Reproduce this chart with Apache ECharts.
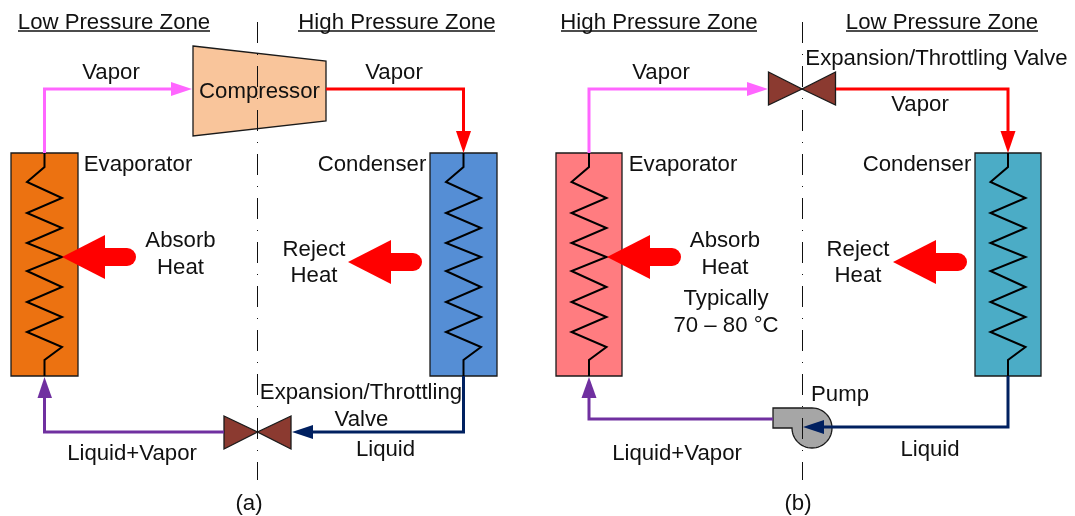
<!DOCTYPE html>
<html>
<head>
<meta charset="utf-8">
<style>
  html, body { margin: 0; padding: 0; background: #fff; }
  #chart { width: 1075px; height: 516px; }
</style>
<script src="https://cdn.jsdelivr.net/npm/echarts@6/dist/echarts.min.js"></script>
</head>
<body>
<div id="chart"></div>
<script>
  // 图 (a)
  const evaporatorA = [[11, 153], [78, 153], [78, 376], [11, 376]]
  const condenserA = [[430, 153], [497, 153], [497, 376], [430, 376]]
  const compressorA = [[193, 46], [326, 61], [326, 121], [193, 136]]
  const valveLeftA = [[224, 416], [257.5, 432], [224, 449]]
  const valveRightA = [[291, 416], [257.5, 432], [291, 449]]
  const vaporInA = [[44.5, 153], [44.5, 89], [175, 89]]
  const vaporOutA = [[326, 89], [463.5, 89], [463.5, 135]]
  const liquidA = [[463.5, 376], [463.5, 432], [310, 432]]
  const mixedA = [[224, 432], [44.5, 432], [44.5, 395]]
  const headVaporInA = [[171, 82], [192, 89], [171, 96]]
  const headVaporOutA = [[456, 131], [463.5, 153], [471, 131]]
  const headLiquidA = [[313, 425], [292, 432], [313, 439]]
  const headMixedA = [[37.5, 398], [44.5, 377], [52, 398]]

  // 图 (b)
  const evaporatorB = [[556, 153], [622, 153], [622, 376], [556, 376]]
  const condenserB = [[975, 153], [1041, 153], [1041, 376], [975, 376]]
  const valveLeftB = [[768.5, 72], [802, 89], [768.5, 105]]
  const valveRightB = [[835.5, 72], [802, 89], [835.5, 105]]
  const vaporInB = [[589, 153], [589, 89], [750, 89]]
  const vaporOutB = [[836, 89], [1008, 89], [1008, 135]]
  const liquidB = [[1008, 376], [1008, 427], [820, 427]]
  const mixedB = [[773, 419], [589, 419], [589, 395]]
  const headVaporInB = [[747, 82], [768, 89], [747, 96]]
  const headVaporOutB = [[1000.5, 131], [1008, 153], [1015.5, 131]]
  const headLiquidB = [[824, 420], [803, 427], [824, 434]]
  const headMixedB = [[581.5, 398], [589, 377], [596.5, 398]]
  const pumpOutlet = [[773, 408], [773, 428]]
  const pumpCasing = [812, 428, 20]

  // 盘管折线
  const coilLeft = [[44.5, 153], [44.5, 167], [27, 182], [62, 198], [27, 213], [62, 228], [27, 243], [62, 257], [27, 271], [62, 287], [27, 302], [62, 317], [27, 332], [62, 347], [44.5, 360], [44.5, 376]]
  const coilOffsets = [0, 419, 544.5, 963.5]

  // 放热箭头: 尖端x, 箭身起点x, 尾端x, y
  const heatArrows = [[62, 105, 136, 257], [348, 391, 422, 262], [607, 650, 681, 257], [893, 936, 967, 262]]

  const centerLines = [[[257.5, 22], [257.5, 480]], [[802.5, 22], [802.5, 480]]]
  const underlines = [[[18, 31], [210, 31]], [[298, 31], [495, 31]], [[561, 31], [757, 31]], [[846, 31], [1038, 31]]]

  const labels = [
    ['Low Pressure Zone', 114, 23], ['High Pressure Zone', 397, 23], ['High Pressure Zone', 659, 23], ['Low Pressure Zone', 942, 23],
    ['Vapor', 111, 73], ['Compressor', 259.5, 92], ['Vapor', 394, 73], ['Evaporator', 138, 165], ['Condenser', 372, 165],
    ['Absorb', 180.5, 241], ['Heat', 180.5, 268], ['Reject', 314, 250], ['Heat', 314, 276],
    ['Expansion/Throttling', 361, 393], ['Valve', 361.5, 420], ['Liquid', 385.5, 450], ['Liquid+Vapor', 132, 454], ['(a)', 249, 504],
    ['Vapor', 661, 73], ['Expansion/Throttling Valve', 936.5, 59], ['Vapor', 920, 105], ['Evaporator', 683, 165], ['Condenser', 917, 165],
    ['Absorb', 725, 241], ['Heat', 725, 268], ['Typically', 726, 299], ['70 – 80 °C', 726, 326], ['Reject', 858, 250], ['Heat', 858, 276],
    ['Pump', 840, 395], ['Liquid', 930, 450], ['Liquid+Vapor', 677, 454], ['(b)', 798, 504]
  ]

  const shapes = [
    [evaporatorA, '#EC7211'], [condenserA, '#558ED5'], [compressorA, '#F9C59B'],
    [valveLeftA, '#8B3A30'], [valveRightA, '#8B3A30'],
    [evaporatorB, '#FF7C80'], [condenserB, '#4BACC6'],
    [valveLeftB, '#8B3A30'], [valveRightB, '#8B3A30']
  ]
  const pipes = [
    [vaporInA, '#FF66FF'], [vaporOutA, '#FF0000'], [liquidA, '#002060'], [mixedA, '#7030A0'],
    [vaporInB, '#FF66FF'], [vaporOutB, '#FF0000'], [liquidB, '#002060'], [mixedB, '#7030A0']
  ]
  const heads = [
    [headVaporInA, '#FF66FF'], [headVaporOutA, '#FF0000'], [headLiquidA, '#002060'], [headMixedA, '#7030A0'],
    [headVaporInB, '#FF66FF'], [headVaporOutB, '#FF0000'], [headLiquidB, '#002060'], [headMixedB, '#7030A0']
  ]

  const chart = echarts.init(document.getElementById('chart'))

  function lineSeries(points, color, width, z, type) {
    return {
      type: 'line',
      data: points,
      z: z,
      silent: true,
      showSymbol: false,
      symbol: 'none',
      animation: false,
      clip: false,
      lineStyle: { color: color, width: width, type: type || 'solid', cap: 'butt', join: 'miter' }
    }
  }

  function polygonSeries(list, z, stroke, strokeWidth) {
    return {
      type: 'custom',
      z: z,
      silent: true,
      animation: false,
      clip: false,
      data: list.map((d, i) => [i]),
      renderItem: function (params, api) {
        const item = list[api.value(0)]
        return {
          type: 'polygon',
          shape: { points: item[0].map(p => api.coord(p)) },
          style: { fill: item[1], stroke: stroke, lineWidth: strokeWidth }
        }
      }
    }
  }

  const pumpSeries = {
    type: 'custom',
    z: 5,
    silent: true,
    animation: false,
    clip: false,
    data: [[0]],
    renderItem: function (params, api) {
      // 泵壳: 出口 + 圆弧
      const arc = []
      for (let a = -90; a <= 180; a += 6) {
        const r = a * Math.PI / 180
        arc.push(api.coord([pumpCasing[0] + pumpCasing[2] * Math.cos(r), pumpCasing[1] + pumpCasing[2] * Math.sin(r)]))
      }
      const points = [api.coord(pumpOutlet[0])].concat(arc, [api.coord(pumpOutlet[1])])
      return {
        type: 'polygon',
        shape: { points: points },
        style: { fill: '#A6A6A6', stroke: '#1a1a1a', lineWidth: 1.3 }
      }
    }
  }

  const heatSeries = {
    type: 'custom',
    z: 6,
    silent: true,
    animation: false,
    clip: false,
    data: heatArrows,
    renderItem: function (params, api) {
      const tip = api.value(0), base = api.value(1), end = api.value(2), y = api.value(3)
      const tail = [api.coord([base - 1, y]), api.coord([end - 9, y])]
      return {
        type: 'group',
        children: [{
          type: 'polygon',
          shape: { points: [api.coord([tip, y]), api.coord([base, y - 22]), api.coord([base, y + 22])] },
          style: { fill: '#FF0000' }
        }, {
          type: 'polyline',
          shape: { points: tail },
          style: { fill: null, stroke: '#FF0000', lineWidth: 18, lineCap: 'round' }
        }]
      }
    }
  }

  const textSeries = {
    type: 'custom',
    z: 20,
    silent: true,
    animation: false,
    clip: false,
    data: labels.map((d, i) => [i]),
    renderItem: function (params, api) {
      const item = labels[api.value(0)]
      const pos = api.coord([item[1], item[2]])
      return {
        type: 'text',
        x: pos[0],
        y: pos[1],
        style: {
          text: item[0],
          align: 'center',
          verticalAlign: 'middle',
          fontFamily: '"Liberation Sans", Arial, sans-serif',
          fontSize: 22.2,
          fill: '#111'
        }
      }
    }
  }

  const series = [
    polygonSeries(shapes, 2, '#1a1a1a', 1.3),
    pumpSeries,
    heatSeries,
    polygonSeries(heads, 8, 'none', 0)
  ]
  pipes.forEach(p => series.push(lineSeries(p[0], p[1], 3, 7)))
  coilOffsets.forEach(dx => {
    series.push(lineSeries(coilLeft.map(p => [p[0] + dx, p[1]]), '#000', 2, 4))
  })
  centerLines.forEach(l => series.push(lineSeries(l, '#111', 1, 10, [21, 11, 1, 11])))
  underlines.forEach(l => series.push(lineSeries(l, '#111', 1.5, 10)))
  series.push(textSeries)

  chart.setOption({
    animation: false,
    backgroundColor: '#fff',
    grid: { left: 0, right: 0, top: 0, bottom: 0 },
    xAxis: { type: 'value', min: 0, max: 1075, show: false },
    yAxis: { type: 'value', min: 0, max: 516, inverse: true, show: false },
    series: series
  })
</script>
</body>
</html>
